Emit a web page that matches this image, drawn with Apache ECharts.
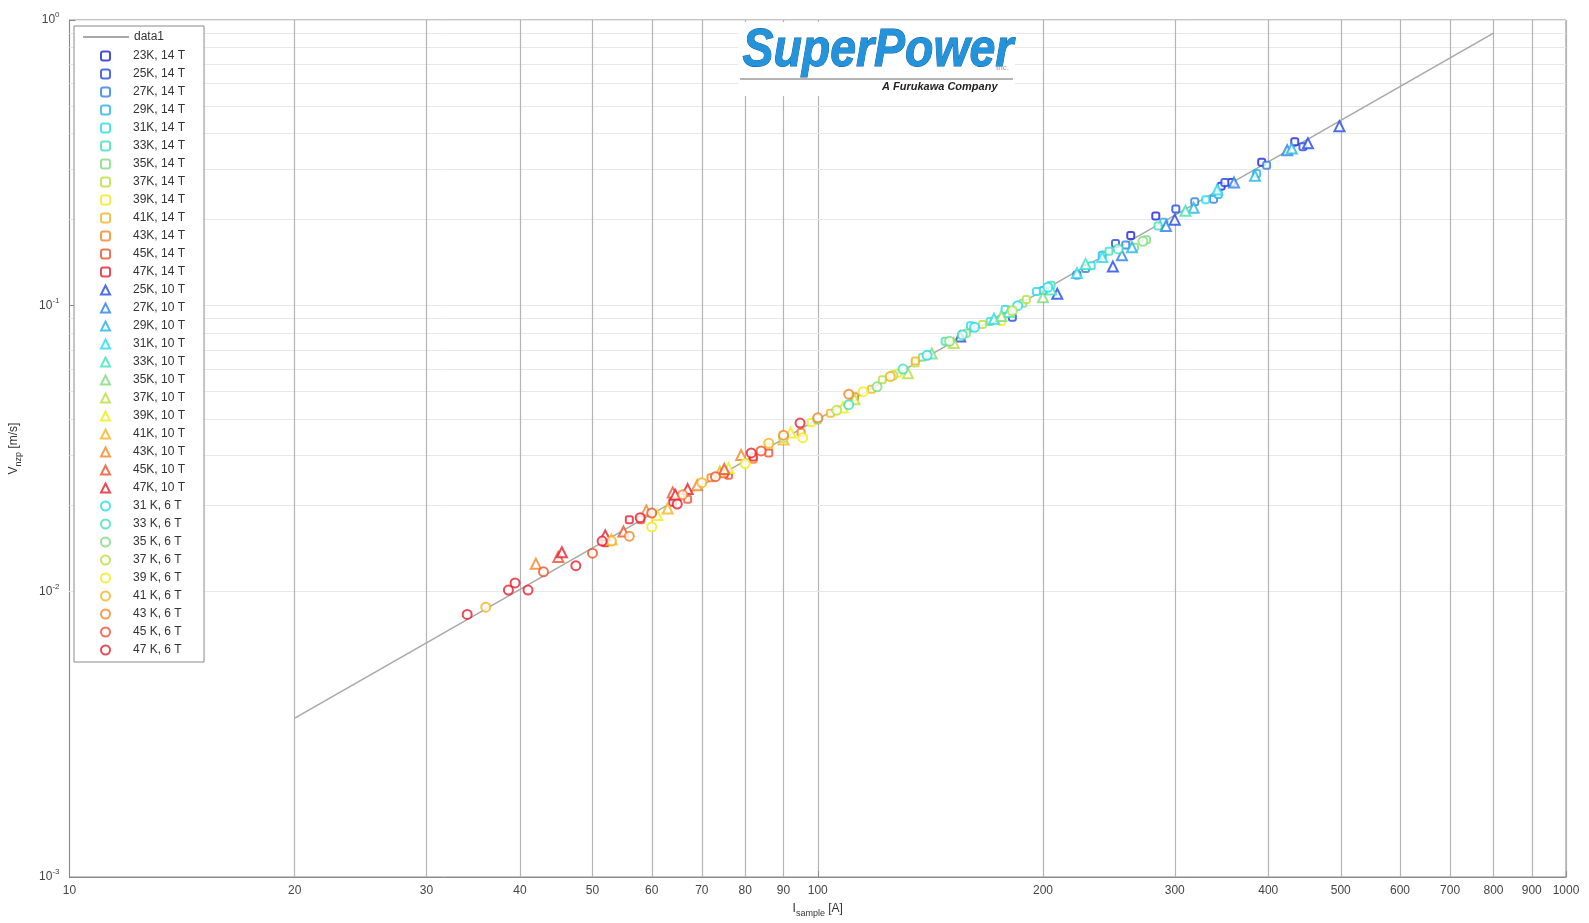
<!DOCTYPE html>
<html lang="en">
<head>
    <meta charset="UTF-8">
    <title>Vnzp vs Isample</title>
    <script src="https://cdn.jsdelivr.net/npm/echarts@6/dist/echarts.min.js"></script>
    <style>
        html, body {margin: 0; padding: 0; background: #fff;}
        #main {width: 1589px; height: 923px;}
    </style>
</head>
<body>
<div id="main"></div>
<script>
    // fit line (data1)
    var lineI = [20, 800];
    var lineV = [0.0036, 0.9];

    // grid lines / tick labels not given by the log axis itself
    var xGridTicks = [20, 30, 40, 50, 60, 70, 80, 90, 200, 300, 400, 500, 600, 700, 800, 900];
    var yGridTicks = [0.002, 0.003, 0.004, 0.005, 0.006, 0.007, 0.008, 0.009,
        0.02, 0.03, 0.04, 0.05, 0.06, 0.07, 0.08, 0.09,
        0.2, 0.3, 0.4, 0.5, 0.6, 0.7, 0.8, 0.9];

    var temps14 = [23, 25, 27, 29, 31, 33, 35, 37, 39, 41, 43, 45, 47];
    var temps10 = [25, 27, 29, 31, 33, 35, 37, 39, 41, 43, 45, 47];
    var temps6 = [31, 33, 35, 37, 39, 41, 43, 45, 47];

    // [I (A), V (m/s)] per temperature
    var pts14 = [
        [[262, 0.176], [283, 0.206], [346, 0.262], [357, 0.27], [392, 0.318], [434, 0.375]],
        [[182, 0.091], [222, 0.128], [250, 0.165], [301, 0.218], [350, 0.27], [445, 0.36]],
        [[228, 0.135], [258, 0.163], [319, 0.231], [338, 0.236], [398, 0.31]],
        [[200, 0.113], [240, 0.15], [290, 0.196], [343, 0.245], [386, 0.29]],
        [[160, 0.085], [178, 0.097], [196, 0.112], [232, 0.138], [330, 0.235]],
        [[148, 0.075], [170, 0.088], [205, 0.118], [245, 0.155], [285, 0.19]],
        [[138, 0.066], [158, 0.08], [188, 0.102], [265, 0.16], [275, 0.17]],
        [[122, 0.055], [135, 0.063], [166, 0.086], [190, 0.105]],
        [[98, 0.039], [112, 0.047], [128, 0.058], [176, 0.088]],
        [[86, 0.032], [104, 0.042], [118, 0.051], [135, 0.064]],
        [[72, 0.025], [82, 0.029], [95, 0.036], [112, 0.048]],
        [[58, 0.0178], [67, 0.021], [76, 0.0255], [86, 0.0305]],
        [[52, 0.0148], [56, 0.0178], [64, 0.0205], [75, 0.0258], [82, 0.0295]]
    ];
    var pts10 = [
        [[155, 0.078], [209, 0.11], [248, 0.137], [300, 0.2], [452, 0.37], [498, 0.425]],
        [[255, 0.15], [292, 0.19], [360, 0.27], [424, 0.35]],
        [[263, 0.16], [318, 0.22], [384, 0.285], [430, 0.355]],
        [[172, 0.09], [222, 0.13], [240, 0.148], [342, 0.255]],
        [[180, 0.095], [205, 0.114], [228, 0.14], [310, 0.215]],
        [[142, 0.068], [176, 0.092], [200, 0.107]],
        [[112, 0.047], [132, 0.058], [152, 0.074]],
        [[61, 0.0185], [76, 0.027], [92, 0.036], [108, 0.044]],
        [[53, 0.0152], [63, 0.0195], [74, 0.0262], [90, 0.034]],
        [[42, 0.0125], [59, 0.0192], [69, 0.0235], [79, 0.03]],
        [[45, 0.0132], [55, 0.0162], [64, 0.0222], [75, 0.0268]],
        [[45.5, 0.0137], [52, 0.0157], [64.5, 0.0218], [67, 0.0228]]
    ];
    var pts6 = [
        [[140, 0.067], [162, 0.084], [185, 0.1], [203, 0.116]],
        [[110, 0.045], [130, 0.06], [156, 0.079], [252, 0.158]],
        [[100, 0.04], [120, 0.052], [150, 0.075], [272, 0.168]],
        [[90, 0.0345], [106, 0.043], [126, 0.057], [182, 0.096]],
        [[60, 0.0168], [80, 0.028], [95.5, 0.0345], [115, 0.05]],
        [[36, 0.0088], [53, 0.015], [70, 0.024], [86, 0.033], [125, 0.0565]],
        [[56, 0.0156], [66, 0.0218], [90, 0.0352], [100, 0.0405], [110, 0.049]],
        [[43, 0.0117], [50, 0.0136], [60, 0.0188], [73, 0.0252], [84, 0.031]],
        [[34, 0.0083], [38.6, 0.0101], [39.4, 0.0107], [41, 0.0101], [47.5, 0.0123], [51.5, 0.015],
            [57.9, 0.0181], [64.9, 0.0202], [81.5, 0.0305], [94.7, 0.0388]]
    ];

    var tempColors = {
        23: '#1f1fd6', 25: '#2048e8', 27: '#2a7fe6', 29: '#22b4e6', 31: '#22dcee',
        33: '#3ee2b8', 35: '#7edc7a', 37: '#b8e03c', 39: '#f0ec10', 41: '#f4b41e',
        43: '#f48424', 45: '#f0502a', 47: '#e81c2c'
    };

    var series = [];
    var scatterNames = [];
    var lineData = [];
    for (var i = 0; i < lineI.length; i++) {
        lineData.push([lineI[i], lineV[i]]);
    }
    var markData = [];
    for (var i = 0; i < yGridTicks.length; i++) {
        markData.push({yAxis: yGridTicks[i], lineStyle: {color: '#e8e8e8', width: 1}, label: {show: false}});
    }
    for (var i = 0; i < xGridTicks.length; i++) {
        markData.push({xAxis: xGridTicks[i]});
    }
    series.push({
        name: 'data1',
        type: 'line',
        symbol: 'none',
        z: 3,
        lineStyle: {color: '#a8a8a8', width: 1.5},
        itemStyle: {color: '#a8a8a8'},
        data: lineData,
        markLine: {
            silent: true,
            symbol: ['none', 'none'],
            z: 1,
            lineStyle: {color: '#b4b4b4', width: 1.2, type: 'solid'},
            label: {
                show: true, position: 'start', distance: 8, formatter: '{c}',
                color: '#444', fontSize: 12, fontFamily: 'Liberation Sans'
            },
            emphasis: {disabled: true},
            data: markData
        }
    });

    function addGroup(temps, pts, field, symbol, size) {
        for (var i = 0; i < temps.length; i++) {
            var t = temps[i];
            var nm = field == 6 ? (t + ' K, 6 T') : (t + 'K, ' + field + ' T');
            scatterNames.push(nm);
            series.push({
                name: nm,
                type: 'scatter',
                symbol: symbol,
                symbolSize: size,
                z: 4,
                itemStyle: {color: tempColors[t], borderWidth: 2},
                data: pts[i]
            });
        }
    }
    addGroup(temps14, pts14, 14, 'emptyRoundRect', 7);
    addGroup(temps10, pts10, 10, 'emptyTriangle', 10);
    addGroup(temps6, pts6, 6, 'emptyCircle', 9);

    var myChart = echarts.init(document.getElementById('main'));
    var option = {
        animation: false,
        backgroundColor: '#fff',
        textStyle: {fontFamily: 'Liberation Sans'},
        grid: {
            left: 67, right: 23, top: 20, bottom: 46,
            show: true, borderColor: '#8a8a8a', borderWidth: 1
        },
        legend: [
            {
                // box with the marker entries
                orient: 'vertical',
                left: 74, top: 26,
                data: scatterNames,
                itemWidth: 9, itemHeight: 9, itemGap: 6,
                padding: [24, 19, 6, 26],
                backgroundColor: '#fff',
                borderColor: '#8a8a8a', borderWidth: 1,
                textStyle: {
                    color: '#333', fontSize: 12, lineHeight: 12,
                    fontFamily: 'Liberation Sans', padding: [0, 0, 0, 18]
                }
            },
            {
                // fit line entry, on top of the box
                orient: 'vertical',
                left: 83, top: 31,
                z: 6,
                data: [{name: 'data1', icon: 'rect'}],
                itemWidth: 46, itemHeight: 2,
                padding: 0,
                textStyle: {color: '#333', fontSize: 12, lineHeight: 12, fontFamily: 'Liberation Sans'}
            }
        ],
        xAxis: {
            type: 'log', logBase: 10, min: 10, max: 1000,
            name: 'I{s|sample} [A]',
            nameLocation: 'middle', nameGap: 22,
            nameTextStyle: {
                color: '#333', fontSize: 12,
                rich: {s: {fontSize: 9, color: '#333', padding: [10, 0, 0, 0]}}
            },
            axisLine: {lineStyle: {color: '#8a8a8a'}},
            axisTick: {show: true, inside: true, length: 6, lineStyle: {color: '#8a8a8a'}},
            axisLabel: {
                color: '#444', fontSize: 12, margin: 8,
                formatter: function (v) { return String(Math.round(v)); }
            },
            splitLine: {show: true, lineStyle: {color: '#b4b4b4', width: 1.2}}
        },
        yAxis: {
            type: 'log', logBase: 10, min: 0.001, max: 1,
            name: 'V{s|nzp} [m/s]',
            nameLocation: 'middle', nameGap: 46, nameRotate: 90,
            nameTextStyle: {
                color: '#333', fontSize: 12,
                rich: {s: {fontSize: 9, color: '#333', padding: [10, 0, 0, 0]}}
            },
            axisLine: {show: true, lineStyle: {color: '#8a8a8a'}},
            axisTick: {show: true, inside: true, length: 6, lineStyle: {color: '#8a8a8a'}},
            axisLabel: {
                margin: 10,
                formatter: function (v) {
                    var e = Math.round(Math.log10(v));
                    return '{b|10}{e|' + e + '}';
                },
                rich: {
                    b: {fontSize: 12, color: '#444'},
                    e: {fontSize: 8, color: '#444', padding: [0, 0, 10, 0]}
                }
            },
            splitLine: {show: true, lineStyle: {color: '#e8e8e8', width: 1}}
        },
        graphic: [
            {type: 'rect', left: 738, top: 22, z: 100, shape: {width: 277, height: 74}, style: {fill: '#fff'}},
            {
                type: 'text', left: 742, top: 24, z: 101, scaleX: 0.86,
                style: {
                    text: 'SuperPower', font: 'italic bold 54px "Liberation Sans"',
                    fill: '#2393dc', stroke: '#0d5c9e', lineWidth: 1
                }
            },
            {type: 'line', z: 101, shape: {x1: 740, y1: 79, x2: 1013, y2: 79}, style: {stroke: '#9a9a9a', lineWidth: 1.5}},
            {type: 'text', left: 996, top: 64, z: 101, style: {text: 'Inc.', font: '8px "Liberation Sans"', fill: '#999'}},
            {
                type: 'text', left: 882, top: 81, z: 101,
                style: {text: 'A Furukawa Company', font: 'italic bold 11px "Liberation Sans"', fill: '#222'}
            }
        ],
        series: series
    };
    myChart.setOption(option);
</script>
</body>
</html>
